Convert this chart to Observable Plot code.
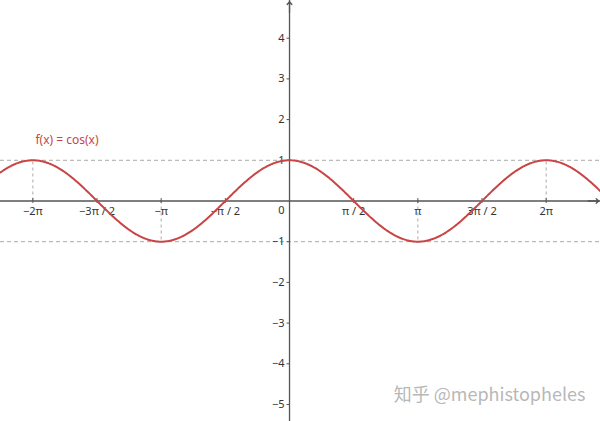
<!DOCTYPE html>
<html>
<head>
<meta charset="utf-8">
<script src="https://cdn.jsdelivr.net/npm/d3@7"></script>
<script src="https://cdn.jsdelivr.net/npm/@observablehq/plot@0.6"></script>
<style>
  html, body { margin: 0; padding: 0; background: #fff; }
  svg { display: block; }
</style>
</head>
<body>
<div id="chart"></div>
<script>
const PI = Math.PI;
// x-axis tick positions and labels (multiples of π/2)
const xTickValues = [-2*PI, -3*PI/2, -PI, -PI/2, PI/2, PI, 3*PI/2, 2*PI];
const xTickLabels = ["−2π", "−3π / 2", "−π", "−π / 2", "π / 2", "π", "3π / 2", "2π"];
// y-axis ticks
const yTickValues = [-5, -4, -3, -2, -1, 1, 2, 3, 4];
const yTickLabels = ["−5", "−4", "−3", "−2", "−1", "1", "2", "3", "4"];
// visible window
const xDomain = [-7.075, 7.613];
const yDomain = [-5.418, 4.926];
// function label & watermark
const funcLabel = "f(x) = cos(x)";
const watermark = "知乎 @mephistopheles";
// extrema guide lines: x positions and extremum values
const extremaX = [-2*PI, -PI, PI, 2*PI];
const extremaY = [1, -1, -1, 1];

const samples = d3.range(xDomain[0], xDomain[1] + 0.01, 0.02);
const curve = samples.map(x => ({x, y: Math.cos(x)}));

const axisColor = "#555";
const dashColor = "#aaa";
const font = "Noto Sans, DejaVu Sans, sans-serif";

const chart = Plot.plot({
  width: 600,
  height: 421,
  margin: 0,
  x: {domain: xDomain, axis: null},
  y: {domain: yDomain, axis: null},
  style: {fontFamily: font, background: "#fff"},
  marks: [
    // dashed guides y = ±1
    Plot.ruleY([1, -1], {stroke: dashColor, strokeDasharray: "4,3", strokeWidth: 1}),
    // vertical dashed guides to extrema
    Plot.ruleX(extremaX, {x: d => d, y1: 0, y2: (d, i) => extremaY[i], stroke: dashColor, strokeDasharray: "3,3", strokeWidth: 1}),
    // axes
    Plot.ruleY([0], {stroke: axisColor, strokeWidth: 1.3}),
    Plot.ruleX([0], {stroke: axisColor, strokeWidth: 1.3}),
    Plot.arrow([0], {x1: xDomain[1] - 0.3, y1: 0, x2: xDomain[1] - 0.04, y2: 0, stroke: axisColor, strokeWidth: 1.3, headLength: 7, headAngle: 80}),
    Plot.arrow([0], {x1: 0, y1: yDomain[1] - 0.3, x2: 0, y2: yDomain[1] - 0.03, stroke: axisColor, strokeWidth: 1.3, headLength: 7, headAngle: 80}),
    // tick marks
    Plot.ruleX(xTickValues, {x: d => d, y1: -0.06, y2: 0.06, stroke: axisColor}),
    Plot.ruleY(yTickValues, {y: d => d, x1: -0.06, x2: 0.0, stroke: axisColor}),
    // tick labels
    Plot.text(xTickValues, {x: d => d, y: 0, text: (d, i) => xTickLabels[i], dy: 10, fontSize: 11, fill: "#333"}),
    Plot.text(yTickValues, {x: 0, y: d => d, text: (d, i) => yTickLabels[i], dx: -5, textAnchor: "end", fontSize: 11, fill: "#333"}),
    Plot.text(["0"], {x: 0, y: 0, text: d => d, dx: -8, dy: 9, fontSize: 11, fill: "#333"}),
    // curve
    Plot.line(curve, {x: "x", y: "y", stroke: "#c94444", strokeWidth: 2}),
    // function label
    Plot.text([funcLabel], {x: -6.22, y: 1.49, text: d => d, textAnchor: "start", fontSize: 12, fill: "#c94444"}),
    // watermark
    Plot.text([watermark], {x: 2.55, y: -4.78, text: d => d, textAnchor: "start", fontSize: 18, fill: "#b8b8b8", fontFamily: "Noto Sans CJK SC, Noto Sans, sans-serif"})
  ]
});
document.getElementById("chart").appendChild(chart);
</script>
</body>
</html>
